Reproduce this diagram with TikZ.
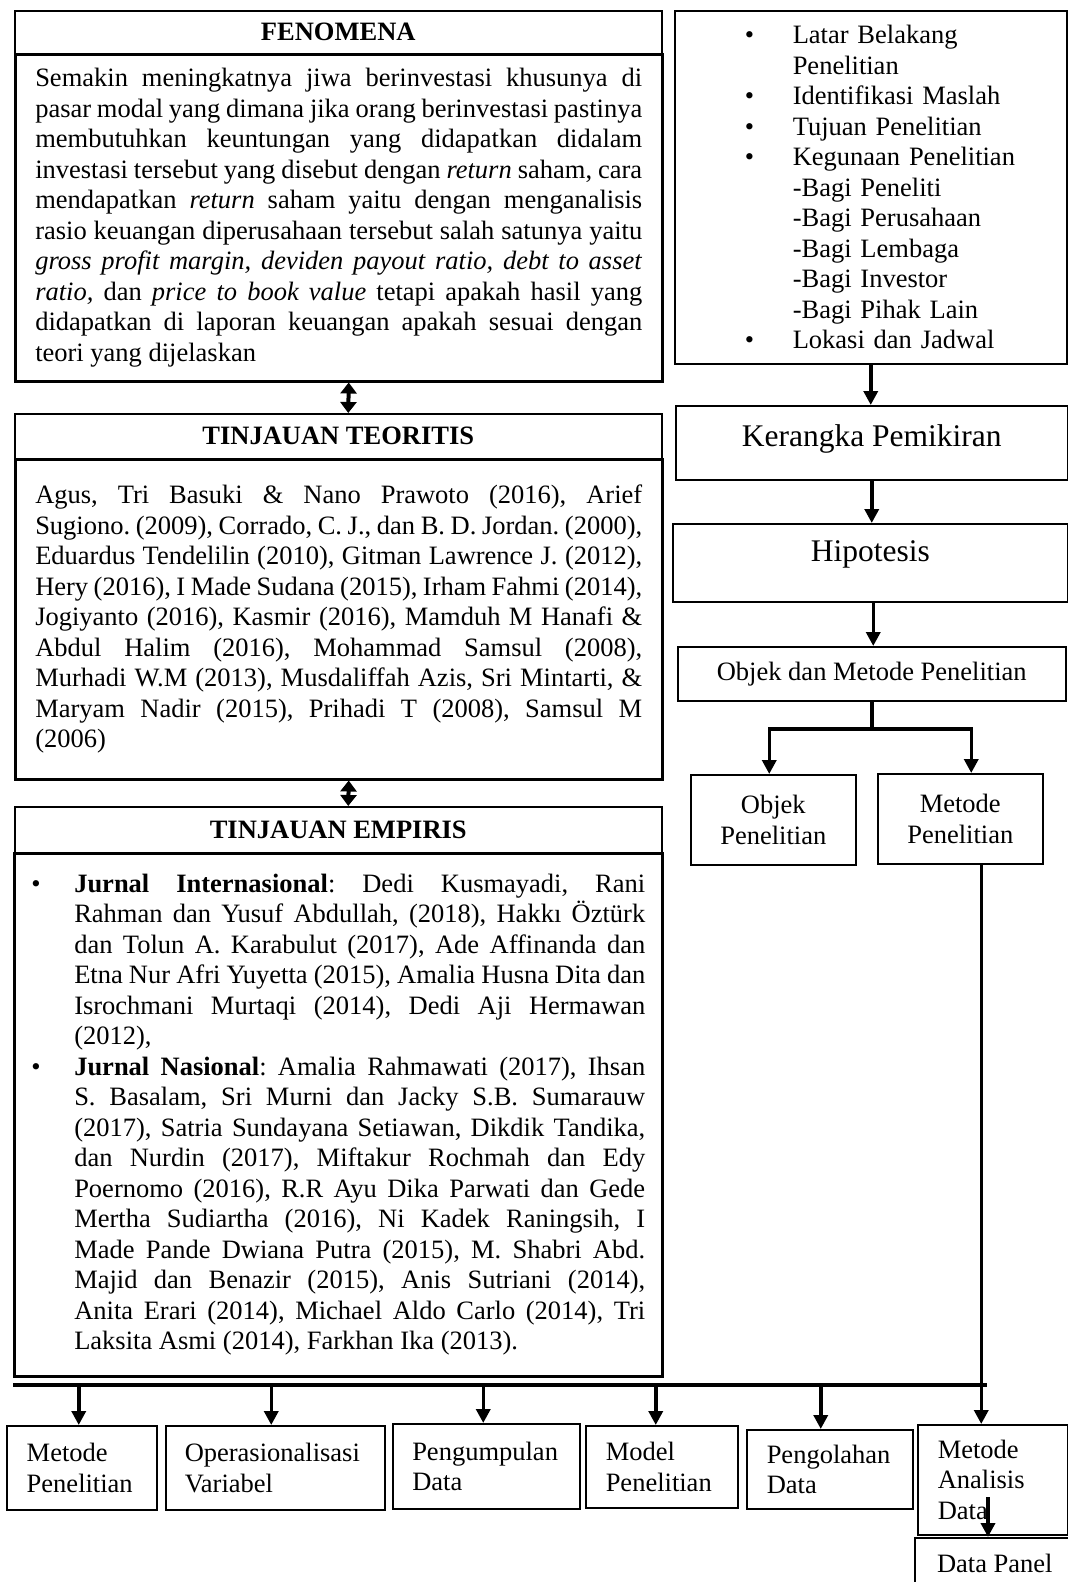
\documentclass[tikz,border=0pt]{standalone}
\usepackage{fontspec}
\setmainfont{Liberation Serif}
\usepackage{tikz}
\usetikzlibrary{arrows.meta}
\usetikzlibrary{calc}
\newcommand{\ukuranteks}{\fontsize{26.5}{30.5}\selectfont\frenchspacing}
\newcommand{\ukuranbesar}{\fontsize{31.5}{36}\selectfont}
\tolerance=10000
\hbadness=10000
\hyphenpenalty=10000
\setlength{\parindent}{0pt}
\tikzstyle{judulbox}=[draw, line width=1.5pt, anchor=north west, inner sep=0pt, font=\ukuranteks\bfseries]
\tikzstyle{isibox}=[draw, line width=2.5pt, anchor=north west, inner sep=0pt, font=\ukuranteks, align=justify]
\tikzstyle{kotak}=[draw, line width=1.5pt, anchor=north west, inner sep=0pt, font=\ukuranteks]
\tikzstyle{panah}=[line width=3.5pt, line join=miter, -{Triangle[length=14pt,width=14pt]}]
\tikzstyle{panahdua}=[line width=4pt, {Triangle[length=11pt,width=16pt]}-{Triangle[length=11pt,width=16pt]}]
\tikzstyle{garis}=[line width=3.5pt, line cap=rect]

\begin{document}
\begin{tikzpicture}[x=1pt,y=-1pt]
          \useasboundingbox (0,0) rectangle (1068,1582);
          \clip (0,0) rectangle (1068,1582);
          %fenomena
          \node[judulbox, minimum width=647pt, minimum height=43pt] (fenjudul) at (14,10) {FENOMENA};
          \node[isibox, minimum width=647pt, minimum height=327pt, text width=607pt] (fenisi) at (14,53) {Semakin meningkatnya jiwa berinvestasi khusunya di\linebreak
          pasar modal yang dimana jika orang berinvestasi pastinya\linebreak
          membutuhkan keuntungan yang didapatkan didalam\linebreak
          investasi tersebut yang disebut dengan \textit{return} saham, cara\linebreak
          mendapatkan \textit{return} saham yaitu dengan menganalisis\linebreak
          rasio keuangan diperusahaan tersebut salah satunya yaitu\linebreak
          \textit{gross profit margin, deviden payout ratio, debt to asset}\linebreak
          \textit{ratio,} dan \textit{price to book value} tetapi apakah hasil yang\linebreak
          didapatkan di laporan keuangan apakah sesuai dengan\linebreak
          teori yang dijelaskan};
          %tinjauan teoritis
          \node[judulbox, minimum width=647pt, minimum height=45pt] (teojudul) at (14,413) {TINJAUAN TEORITIS};
          \node[isibox, minimum width=647pt, minimum height=320pt, text width=607pt] (teoisi) at (14,458) {Agus, Tri Basuki \& Nano Prawoto (2016), Arief\linebreak
          Sugiono. (2009), Corrado, C. J., dan B. D. Jordan. (2000),\linebreak
          Eduardus Tendelilin (2010), Gitman Lawrence J. (2012),\linebreak
          Hery (2016), I Made Sudana (2015), Irham Fahmi (2014),\linebreak
          Jogiyanto (2016), Kasmir (2016), Mamduh M Hanafi \&\linebreak
          Abdul Halim (2016), Mohammad Samsul (2008),\linebreak
          Murhadi W.M (2013), Musdaliffah Azis, Sri Mintarti, \&\linebreak
          Maryam Nadir (2015), Prihadi T (2008), Samsul M\linebreak
          (2006)};
          %tinjauan empiris
          \node[judulbox, minimum width=647pt, minimum height=46pt] (empjudul) at (14,806) {TINJAUAN EMPIRIS};
          \node[isibox, minimum width=648pt, minimum height=523pt, text width=614pt] (empisi) at (13,852) {\makebox[43pt][l]{\textbullet}\hangindent=43pt\hangafter=1\textbf{Jurnal Internasional}: Dedi Kusmayadi, Rani\linebreak
          Rahman dan Yusuf Abdullah, (2018), Hakkı Öztürk\linebreak
          dan Tolun A. Karabulut (2017), Ade Affinanda dan\linebreak
          Etna Nur Afri Yuyetta (2015), Amalia Husna Dita dan\linebreak
          Isrochmani Murtaqi (2014), Dedi Aji Hermawan\linebreak
          (2012),\par
          \makebox[43pt][l]{\textbullet}\hangindent=43pt\hangafter=1\textbf{Jurnal Nasional}: Amalia Rahmawati (2017), Ihsan\linebreak
          S. Basalam, Sri Murni dan Jacky S.B. Sumarauw\linebreak
          (2017), Satria Sundayana Setiawan, Dikdik Tandika,\linebreak
          dan Nurdin (2017), Miftakur Rochmah dan Edy\linebreak
          Poernomo (2016), R.R Ayu Dika Parwati dan Gede\linebreak
          Mertha Sudiartha (2016), Ni Kadek Raningsih, I\linebreak
          Made Pande Dwiana Putra (2015), M. Shabri Abd.\linebreak
          Majid dan Benazir (2015), Anis Sutriani (2014),\linebreak
          Anita Erari (2014), Michael Aldo Carlo (2014), Tri\linebreak
          Laksita Asmi (2014), Farkhan Ika (2013).\par};
          %panah dua arah
          \draw[panahdua] ([xshift=10pt]fenisi.south) -- ([xshift=10pt]teojudul.north);
          \draw[panahdua] ([xshift=10pt]teoisi.south) -- ([xshift=10pt]empjudul.north);
          %kolom kanan
          \node[kotak, minimum width=392pt, minimum height=353pt, text width=372pt, align=left] (latar) at (674,10) {\hspace*{60pt}\makebox[48pt][l]{\textbullet}Latar Belakang\\
          \hspace*{108pt}Penelitian\\
          \hspace*{60pt}\makebox[48pt][l]{\textbullet}Identifikasi Maslah\\
          \hspace*{60pt}\makebox[48pt][l]{\textbullet}Tujuan Penelitian\\
          \hspace*{60pt}\makebox[48pt][l]{\textbullet}Kegunaan Penelitian\\
          \hspace*{108pt}-Bagi Peneliti\\
          \hspace*{108pt}-Bagi Perusahaan\\
          \hspace*{108pt}-Bagi Lembaga\\
          \hspace*{108pt}-Bagi Investor\\
          \hspace*{108pt}-Bagi Pihak Lain\\
          \hspace*{60pt}\makebox[48pt][l]{\textbullet}Lokasi dan Jadwal};
          \node[kotak, minimum width=392pt, minimum height=74pt, font=\ukuranbesar, text height=21.5pt, text depth=14.5pt] (kerangka) at (675,405) {Kerangka Pemikiran};
          \node[kotak, minimum width=395pt, minimum height=78pt, font=\ukuranbesar, text height=21.5pt, text depth=23.5pt] (hipotesis) at (672,523) {Hipotesis};
          \node[kotak, minimum width=388pt, minimum height=54pt] (objmet) at (677,646) {Objek dan Metode Penelitian};
          \node[kotak, minimum width=165pt, minimum height=90pt, align=center] (objek) at (690,774) {Objek\\Penelitian};
          \node[kotak, minimum width=165pt, minimum height=90pt, align=center] (metpen) at (877,773) {Metode\\Penelitian};
          \draw[panah] (latar.south) -- (latar.south |- kerangka.north);
          \draw[panah] (kerangka.south) -- (kerangka.south |- hipotesis.north);
          \draw[panah] ([xshift=3pt]hipotesis.south) -- ([xshift=3pt]hipotesis.south |- objmet.north);
          %cabang objek dan metode
          \coordinate (cabang) at (872,729);
          \draw[garis] (objmet.south -| cabang) -- (cabang);
          \draw[panah] (cabang) -| ([xshift=-4pt]objek.north);
          \draw[panah] (cabang) -| ([xshift=11pt]metpen.north);
          %kotak bawah
          \node[kotak, minimum width=150pt, minimum height=84pt, text width=110pt, align=left] (metode) at (6,1425) {Metode\\Penelitian};
          \node[kotak, minimum width=219pt, minimum height=84pt, text width=181pt, align=left] (operasional) at (165,1425) {Operasionalisasi\\Variabel};
          \node[kotak, minimum width=187pt, minimum height=85pt, text width=148pt, align=left] (pengumpulan) at (392,1423) {Pengumpulan\\Data};
          \node[kotak, minimum width=152pt, minimum height=82pt, text width=112pt, align=left] (model) at (585,1425) {Model\\Penelitian};
          \node[kotak, minimum width=166pt, minimum height=79pt, text width=126pt, align=left] (pengolahan) at (746,1429) {Pengolahan\\Data};
          \node[kotak, minimum width=150pt, minimum height=110pt, text width=110pt, align=left] (analisis) at (917,1424) {Metode\\Analisis\\Data};
          \node[kotak, minimum width=160pt, minimum height=52pt] (panel) at (914,1537) {Data Panel};
          %garis bawah
          \coordinate (busL) at (15,1385);
          \coordinate (busR) at (985,1385);
          \draw[garis, line width=4.5pt] (busL) -- (busR);
          \draw[panah] ([xshift=21pt]metpen.south) -- ([xshift=21pt]metpen.south |- analisis.north);
          \draw[panah] ([xshift=-3pt]metode.north |- busL) -- ([xshift=-3pt]metode.north);
          \draw[panah] ([xshift=-4pt]operasional.north |- busL) -- ([xshift=-4pt]operasional.north);
          \draw[panah] ([xshift=-3pt]pengumpulan.north |- busL) -- ([xshift=-3pt]pengumpulan.north);
          \draw[panah] ([xshift=-6pt]model.north |- busL) -- ([xshift=-6pt]model.north);
          \draw[panah] ([xshift=-9pt]pengolahan.north |- busL) -- ([xshift=-9pt]pengolahan.north);
          \coordinate (awalpanel) at (988,1497);
          \draw[panah] (awalpanel) -- (awalpanel |- panel.north);
          %judul gambar
          \node[font=\bfseries\fontsize{30}{36}\selectfont, anchor=base west, inner sep=0pt] (judul) at (467,1604) {Gambar 2.2};
        \end{tikzpicture}
\end{document}
